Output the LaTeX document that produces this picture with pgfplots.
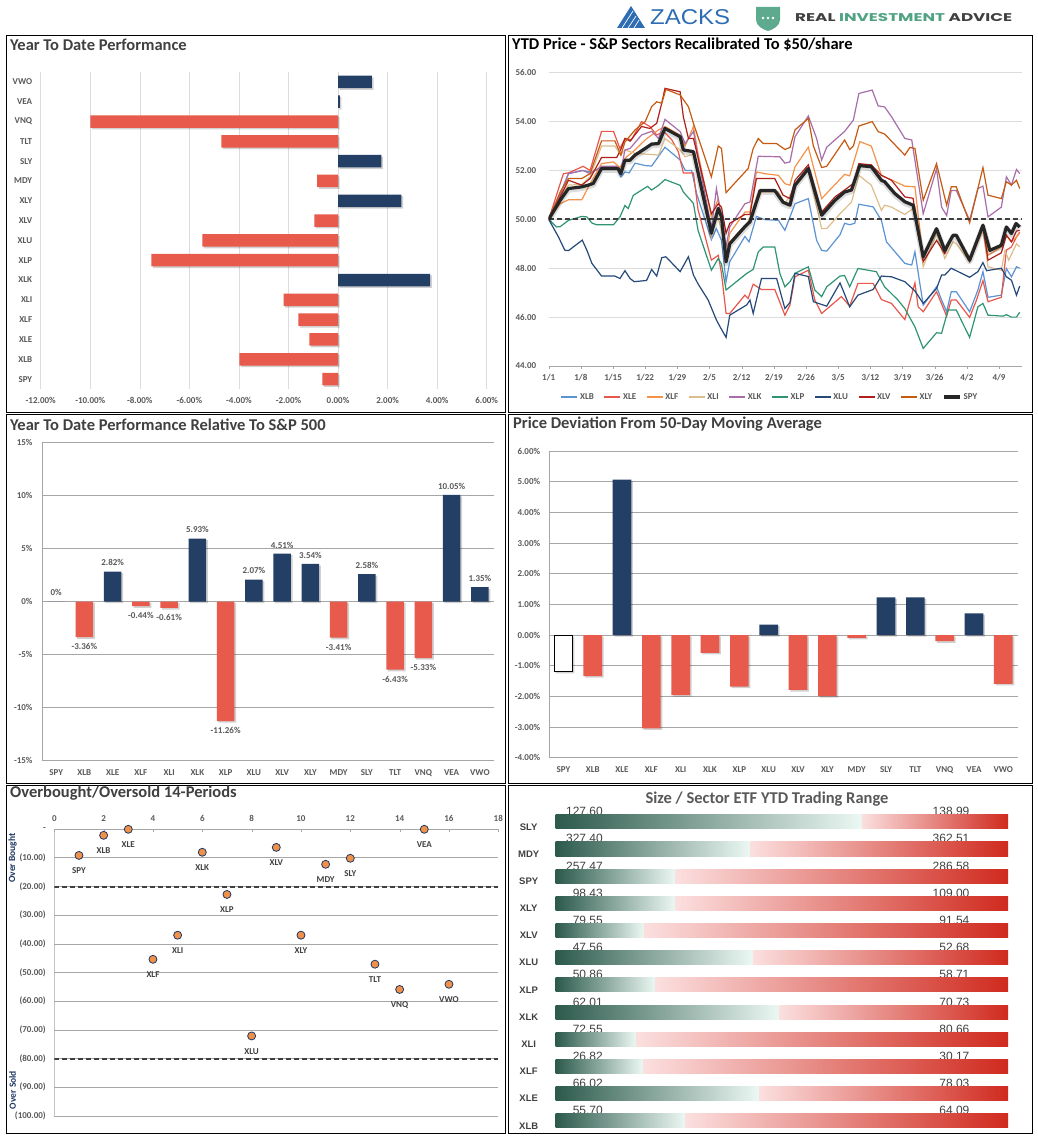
\documentclass[border=0pt]{standalone}
\usepackage{fontspec}
\setmainfont{Carlito}
\newfontfamily\arialf{Liberation Sans}
\newfontfamily\popf{Poppins}
\usepackage{graphicx}
\usepackage{pgfplots}
\pgfplotsset{compat=1.18}
\usepackage{pgfplotstable}

\definecolor{navy}{HTML}{243F66}
\definecolor{redbar}{HTML}{E85A4B}
\definecolor{ticktxt}{HTML}{595959}
\definecolor{titletxt}{HTML}{404040}
\definecolor{gridc}{HTML}{DCDCDC}
\definecolor{gridd}{HTML}{A6A6A6}
\definecolor{cXLB}{HTML}{5B93D3}
\definecolor{cXLE}{HTML}{E9564B}
\definecolor{cXLF}{HTML}{F5924A}
\definecolor{cXLI}{HTML}{DDBE8A}
\definecolor{cXLK}{HTML}{A86DAA}
\definecolor{cXLP}{HTML}{2E9474}
\definecolor{cXLU}{HTML}{24497A}
\definecolor{cXLV}{HTML}{B0201A}
\definecolor{cXLY}{HTML}{C55A11}
\definecolor{cSPY}{HTML}{262626}
\definecolor{dotorange}{HTML}{F0914A}
\definecolor{dotedge}{HTML}{1F3864}
\definecolor{gdark}{HTML}{2C5A4C}
\definecolor{gmid}{HTML}{7ECDB8}
\definecolor{glight}{HTML}{ECF8F3}
\definecolor{rlight}{HTML}{FBDFDF}
\definecolor{rmid}{HTML}{EA6656}
\definecolor{rdark}{HTML}{D02A1E}
\definecolor{zblue}{HTML}{2E6DB4}
\definecolor{shieldg}{HTML}{5DAA8E}
\definecolor{rgreen}{HTML}{4FA383}

\pgfplotsset{every axis/.append style={
  scale only axis, enlargelimits=false,
  tick label style={font=\fontsize{9}{10}\selectfont\bfseries, color=ticktxt},
  major tick length=0pt,
  grid style={gridc, line width=0.6pt},
  /pgf/number format/assume math mode=true,
}}
\pgfplotsset{shadowbar/.style={draw=none, fill=black, opacity=0.18, xshift=1.6pt, yshift=-1.6pt, forget plot}}

\newcommand{\rangebar}[6]{%
  \node[anchor=base east, inner sep=0pt, yshift=-1pt, font=\arialf\fontsize{12}{12}\selectfont, text=titletxt] at (axis cs:0.1046,#2) {#5};
  \node[anchor=base east, inner sep=0pt, yshift=-1pt, font=\arialf\fontsize{12}{12}\selectfont, text=titletxt] at (axis cs:0.915,#2) {#6};
  \addplot[draw=none, left color=gdark, middle color=gmid, right color=glight] coordinates {(0,#1) (#3,#1) (#3,#2) (0,#2)};
  \addplot[draw=none, left color=rlight, middle color=rmid, right color=rdark] coordinates {(#3,#1) (1,#1) (1,#2) (#3,#2)};
}

\begin{document}

\pgfplotstableread{
d v
0 50
2.5 51.05
4.3 51.87
7.2 52.0
9 51.94
11.5 52.08
14.8 52.08
15.7 51.74
16.6 51.94
17.5 51.9
18.8 52.3
21 52.2
22.4 52.18
23.9 52.58
25.3 52.95
28.6 52.43
29.7 52.0
31.1 52.0
32.2 51.05
35.4 49.17
36.5 49.62
37.6 49.14
38.6 47.45
39.4 48.27
42.7 49.3
43.6 49.08
45.2 50.12
47 49.99
50 49.96
51.4 49.55
53.6 50.64
56.5 50.85
58.3 49.14
59.4 48.73
60.5 48.7
63.4 49.37
64.4 49.84
65.5 49.78
66.6 49.84
67.5 50.62
70.6 50.51
72.4 49.96
73.5 49.08
76 48.53
77.5 48.2
79 48.13
79.7 48.67
81.5 46.49
84.4 47.24
85.5 46.7
86.6 46.22
87.6 47.04
88.7 47.04
91.6 46.22
93.4 47.11
94.5 47.86
95.6 46.81
98.5 46.9
99.6 47.99
100.7 47.65
101.8 48.06
102.5 48.0
}\tXLB

\pgfplotstableread{
d v
0 50
3.2 51.87
4.3 51.9
7.5 52.17
9 52.0
11.5 53.6
14.1 53.6
15.5 52.9
16.6 53.31
18 53.25
20.2 54.0
22 53.8
23.5 53.45
25 53.6
26.8 53.25
28.2 52.77
29.3 51.9
31.5 51.9
32.5 50.4
35.4 48.33
36.9 48.53
37.6 47.79
38.6 46.15
39.4 46.15
42.7 46.9
43.4 46.76
44.5 47.35
46.3 47.13
49.2 47.13
51.4 46.08
52.5 46.49
53.6 47.65
56.5 47.92
57.9 46.7
59.4 46.15
63.7 46.84
65.5 46.45
67.3 47.38
70.6 47.38
72.4 46.72
74.6 46.56
77.5 45.9
79.7 47.4
80.4 46.42
81.5 46.22
84.4 47.04
86.6 46.04
87.6 46.7
88.7 46.7
91.6 45.99
93.1 46.7
94.5 47.49
95.6 46.63
98.5 46.81
99.6 48.74
100.7 48.87
101.8 49.28
102.5 49.48
}\tXLE

\pgfplotstableread{
d v
0 50
2.5 50.64
4.3 50.8
7.2 50.8
9 51.46
11.5 52.28
14.1 52.35
15.5 52.12
16.6 52.5
18.8 52.84
21 53.25
22.4 53.45
23.9 53.66
25.3 53.8
28.6 53.45
29.7 53.0
31.5 53.8
32.5 52.7
35.4 50.1
36.9 50.85
37.6 50.1
38.6 48.47
39.4 49.43
42.7 50.3
43.8 50.3
45.2 51.94
47 51.87
50 51.8
51.4 51.46
52.5 51.4
53.6 52.15
56.5 52.95
59.4 50.85
64.4 51.84
65.5 51.78
67.7 53.18
70.2 53.0
72.4 51.8
77.5 51.36
79.7 51.33
81.5 48.4
84.4 49.55
86.2 48.74
88 49.35
88.7 49.35
91.6 48.35
94.5 49.76
95.6 48.53
98.5 48.87
99.6 49.35
100.7 49.08
101.8 49.28
102.5 49.44
}\tXLF

\pgfplotstableread{
d v
0 50
2.5 50.92
4.3 51.4
7.2 51.43
9 51.74
11.5 53.0
14.4 53.0
15.7 52.63
16.6 52.84
18.8 52.7
21 52.67
23.9 52.63
25.3 53.31
28.6 52.84
29.7 52.56
31.5 52.67
35.4 49.28
36.5 50.23
37.6 49.6
38.6 48.4
39.4 49.08
43.4 49.9
46.3 51.12
50 51.12
51.4 50.64
53.6 51.33
56.5 52.0
59.4 49.62
60.5 49.62
63.4 50.23
65.9 50.71
67.5 51.8
70.2 51.4
72.4 50.37
73.1 50.58
74.6 50.5
77.5 50.2
79.7 50.5
81.5 48.06
84.4 49.43
86.2 48.4
88 49.08
88.7 49.0
91.6 48.27
94.5 49.55
95.6 48.06
98.5 47.92
99.3 48.73
100.1 48.33
101.8 49.0
102.5 48.87
}\tXLI

\pgfplotstableread{
d v
0 50
2.5 51.0
4.3 51.87
7.5 52.0
9 51.87
11.5 52.17
14.8 52.17
15.7 52.0
16.6 52.84
17.7 52.9
20.2 53.45
22.4 53.6
23.9 53.31
25.3 54.09
28.6 53.59
29.7 53.1
31.5 53.6
32.5 52.56
35.4 49.62
36.5 51.26
37.6 50.03
38.6 48.87
39.4 49.69
42.7 50.64
43.8 50.71
45.6 52.58
50.3 52.56
51.4 52.3
52.5 52.35
53.6 53.38
56.5 54.23
58.3 53.31
59.4 52.43
60.5 52.95
64.4 53.6
66.3 54.06
67.5 55.15
70.4 55.29
71.7 54.64
73.1 54.6
74.6 54.2
77.5 53.31
79 53.25
81.5 50.23
84.4 52.07
85.5 50.5
86.6 50.16
87.6 51.18
88.7 51.18
91.6 49.96
93.4 51.26
94.5 51.36
95.6 50.1
98.5 50.5
99.6 51.74
100.7 51.4
101.8 52.04
102.5 51.87
}\tXLK

\pgfplotstableread{
d v
0 50
1.7 49.69
2.5 49.7
4.3 49.96
7.2 50.12
8.3 50.1
9.4 49.85
10.4 49.78
14.1 49.78
15.5 50.1
16.6 50.57
17.3 50.44
18.4 50.98
21.5 51.35
22.4 51.2
23.9 51.39
25.3 51.63
28.6 51.39
29.3 51.12
31.5 50.65
32.5 49.55
35.4 47.92
36.9 48.4
37.6 48.17
38.6 47.11
43.1 47.79
44.5 47.95
45.6 48.67
46.7 48.87
49.2 48.87
50.3 47.79
51.4 47.24
52.5 47.45
53.6 47.79
56.5 48.06
57.9 47.11
59.4 46.84
60.5 47.24
63.4 47.68
64.4 47.7
65.5 47.24
67.3 47.99
71.3 47.86
73.1 47.24
76 46.7
77.5 46.35
79.7 45.6
81.5 44.72
84.4 45.36
85.5 45.34
86.9 46.29
88.7 46.29
91.6 45.17
93.4 46.42
94.5 46.56
95.6 46.08
98.9 46.04
99.6 46.1
100.7 46.0
101.8 46.0
102.5 46.2
}\tXLP

\pgfplotstableread{
d v
0 50
2.1 49.29
3.5 48.74
4.3 48.72
7.3 49.15
8.3 48.74
9.4 48.2
11.5 47.68
14.4 47.68
15.5 47.58
16.6 47.9
17.7 47.58
18.6 47.45
21.3 47.5
22.4 47.95
23.5 47.68
24.6 48.43
25.5 48.47
28.6 47.86
30.4 48.47
31.5 47.72
32.5 47.36
34.7 46.7
36.5 45.88
37.3 45.6
38.6 45.17
39.4 46.08
43.1 46.5
43.8 46.7
44.5 46.15
46.3 47.58
49.6 47.58
51.4 46.35
52.5 46.6
53.6 47.79
56.5 47.66
57.6 46.63
60.5 46.45
63.4 47.4
65.5 46.42
67.3 46.9
70.6 47.13
72.4 47.68
74.6 47.65
77.5 47.45
79.7 47.07
81.5 46.56
84.4 47.17
85.5 47.72
86.2 47.72
87.6 48.0
91.6 47.63
93.4 47.86
94.5 48.23
95.3 47.9
98.5 48.0
99.6 47.65
100.7 47.51
101.8 46.9
102.5 47.27
}\tXLU

\pgfplotstableread{
d v
0 50
2.5 50.92
4.3 51.6
7.2 51.4
9 51.67
11.5 52.53
14.8 52.53
15.7 52.86
16.6 53.31
17.7 53.2
20.2 53.8
22 53.72
23.5 53.93
24.6 54.75
25.3 55.36
28.6 55.22
29.3 54.2
30.4 53.31
31.5 53.31
35.4 50.23
36.9 50.64
37.6 50.5
38.6 49.43
39.4 49.84
42.7 50.2
43.8 50.2
45.2 51.67
49.2 51.67
51 50.99
52.5 50.85
53.6 51.6
56.5 52.23
59.4 50.3
62.3 50.92
64.4 51.2
66.3 51.47
67.5 52.28
70.2 52.23
72.4 51.8
74.6 51.6
77.5 50.92
79.3 50.86
81.5 48.27
84.4 49.14
86.2 48.6
88 49.35
88.7 49.35
91.6 48.27
94.5 49.69
95.6 48.33
98.5 48.63
99.6 49.35
100.7 49.08
101.8 49.52
102.5 49.55
}\tXLV

\pgfplotstableread{
d v
0 50
2.5 51.12
4.3 51.67
7.2 51.67
9 51.87
11.5 53.21
14.4 53.21
15.7 52.63
16.6 53.17
18.8 53.66
21 54.0
22.4 54.61
23.5 54.81
24.6 54.75
25.5 55.32
28.6 55.09
30.4 54.61
31.5 53.93
35.4 51.74
36.9 53.0
37.6 52.9
38.6 51.09
39.4 51.26
43.4 52.08
44.5 52.9
45.6 53.31
46.7 53.1
49.6 53.1
51.4 52.86
52.5 52.94
53.6 53.66
56.5 54.13
57.6 53.0
59.4 52.12
60.5 52.17
64.4 53.25
65.5 52.86
66.3 53.0
67.5 53.82
70.4 54.0
71.7 53.59
73.1 53.49
77.5 52.63
78.6 52.94
79.7 52.9
81.5 50.78
84.4 52.28
86.6 50.58
87.6 51.33
88.7 51.33
91.6 49.86
94.5 52.12
95.6 50.99
98.5 50.85
99.6 51.54
100.7 51.4
101.8 51.6
102.5 51.26
}\tXLY

\pgfplotstableread{
d v
0 50
2.5 50.78
4.3 51.26
7.2 51.33
8.6 51.4
9.7 51.47
11.5 52.08
15.1 52.08
15.7 51.87
16.6 52.42
17.7 52.42
18.8 52.63
21 52.9
22.4 53.08
23.9 53.1
25.3 53.72
28.6 53.38
29.3 52.84
31.5 52.77
35.4 49.43
36.9 50.45
37.6 50.1
38.6 48.26
39.4 49.0
42.7 49.7
43.8 49.9
46 51.18
49.2 51.18
51 50.7
52.5 50.58
53.6 51.4
56.5 52.08
59.4 50.17
62.3 50.78
64.4 51.12
65.9 51.2
67.7 52.2
70.2 52.15
72.4 51.6
73.1 51.54
75.3 51.06
77.5 50.72
79.3 50.58
81.5 48.47
84.4 49.62
86.2 48.73
88 49.35
88.7 49.35
91.6 48.33
94.5 49.76
96 48.73
98.5 48.94
99.6 49.69
100.7 49.42
101.7 49.83
102.5 49.69
}\tSPY

\begin{tikzpicture}
\useasboundingbox (0,0) rectangle (1037pt,-1140pt);
\fill[white] (0,0) rectangle (1037pt,-1140pt);

\begin{scope}[x=1pt,y=-1pt]
  % header
  \fill[zblue] (617,28) -- (631,6) -- (645,28) -- cycle;
  \draw[white, line width=0.7pt] (622,28) -- (633,11) (628,28) -- (636,16) (634,28) -- (639,20);
  \node[anchor=west, inner sep=0pt, text=zblue] at (650,17) {\resizebox{80pt}{15pt}{\arialf ZACKS}};
  \fill[shieldg] (756,7) -- (780,7) -- (780,20) .. controls (780,26) and (772,30) .. (768,31) .. controls (764,30) and (756,26) .. (756,20) -- cycle;
  \fill[white] (763,18) circle (1.4) (768,18) circle (1.4) (773,18) circle (1.4);
  \node[anchor=west, inner sep=0pt, text=titletxt] at (795,17.5) {\resizebox{217pt}{8pt}{\popf\bfseries REAL {\color{rgreen}INVESTMENT} ADVICE}};
  % panel borders
  \draw[black, line width=0.9pt] (6,35) rectangle (505,412.5);
  \draw[black, line width=0.9pt] (508,35) rectangle (1032,412.5);
  \draw[black, line width=0.9pt] (6,414) rectangle (505,783);
  \draw[black, line width=0.9pt] (508,414) rectangle (1032,783);
  \draw[black, line width=0.9pt] (6,785) rectangle (505,1133);
  \draw[black, line width=0.9pt] (508,785) rectangle (1032,1133);
  % titles
  \begin{scope}[every node/.style={anchor=west, inner sep=0pt, font=\fontsize{16.5}{18}\selectfont\bfseries}]
    \node[text=titletxt] at (10,45) {Year To Date Performance};
    \node[text=black] at (512,45) {YTD Price - S\&P Sectors Recalibrated To \$50/share};
    \node[text=titletxt] at (10,425) {Year To Date Performance Relative To S\&P 500};
    \node[text=titletxt] at (513,424) {Price Deviation From 50-Day Moving Average};
    \node[text=titletxt] at (10,793) {Overbought/Oversold 14-Periods};
  \end{scope}
  \node[anchor=center, inner sep=0pt, font=\fontsize{16.5}{18}\selectfont\bfseries, text=ticktxt] at (767,799) {Size / Sector ETF YTD Trading Range};
  \node[rotate=90, inner sep=0pt, font=\fontsize{9.5}{10}\selectfont\bfseries, text=dotedge] at (12.7,858) {Over Bought};
  \node[rotate=90, inner sep=0pt, font=\fontsize{9.5}{10}\selectfont\bfseries, text=dotedge] at (12.7,1090) {Over Sold};
\end{scope}

% ---------------- Panel 1: YTD performance ----------------
\begin{axis}[at={(40.7pt,-72pt)}, anchor=north west, width=446pt, height=317pt,
  xmin=-12, xmax=6, ymin=-0.5, ymax=15.5,
  xtick={-12,-10,...,6},
  xticklabels={-12.00\%,-10.00\%,-8.00\%,-6.00\%,-4.00\%,-2.00\%,0.00\%,2.00\%,4.00\%,6.00\%},
  ytick={0,...,15},
  yticklabels={SPY,XLB,XLE,XLF,XLI,XLK,XLP,XLU,XLV,XLY,MDY,SLY,TLT,VNQ,VEA,VWO},
  xmajorgrids, axis line style={draw=none},
  xticklabel style={yshift=-5pt}, yticklabel style={xshift=-5pt}]
\addplot[xbar, bar width=12.5pt, bar shift=0pt, shadowbar]
  coordinates {(1.37,15) (0.07,14) (1.75,11) (2.56,9) (3.72,5) (-10.0,13) (-4.71,12) (-0.84,10) (-0.96,8) (-5.48,7) (-7.53,6) (-2.2,4) (-1.6,3) (-1.16,2) (-3.98,1) (-0.63,0)};
\addplot[xbar, bar width=12.5pt, bar shift=0pt, fill=navy, draw=none]
  coordinates {(1.37,15) (0.07,14) (1.75,11) (2.56,9) (3.72,5)};
\addplot[xbar, bar width=12.5pt, bar shift=0pt, fill=redbar, draw=none]
  coordinates {(-10.0,13) (-4.71,12) (-0.84,10) (-0.96,8) (-5.48,7) (-7.53,6) (-2.2,4) (-1.6,3) (-1.16,2) (-3.98,1) (-0.63,0)};
\end{axis}

% ---------------- Panel 2: YTD price lines ----------------
\begin{axis}[at={(548.7pt,-72.7pt)}, anchor=north west, width=473.3pt, height=293.3pt,
  xmin=0, xmax=103, ymin=44, ymax=56,
  ytick={44,46,...,56}, yticklabels={44.00,46.00,48.00,50.00,52.00,54.00,56.00},
  xtick={0,7,...,98},
  xticklabels={1/1,1/8,1/15,1/22,1/29,2/5,2/12,2/19,2/26,3/5,3/12,3/19,3/26,4/2,4/9},
  ymajorgrids, axis line style={draw=none},
  major tick length=3pt, tick align=outside, xtick pos=left, ytick pos=left,
  xtick style={draw=gridd}, ytick style={draw=none},
  xticklabel style={yshift=-2pt}, yticklabel style={xshift=-6pt},
  legend style={at={(0.4676,-0.106)}, anchor=center, draw=none, fill=none,
    font=\fontsize{9}{10}\selectfont\bfseries, text=ticktxt,
    legend columns=10, /tikz/every even column/.append style={column sep=8pt}},
  legend image code/.code={\draw[#1] (0pt,0pt) -- (16pt,0pt);}]
\draw[gridd, line width=0.6pt] (axis cs:0,44) -- (axis cs:103,44);
\addplot[cXLB, line width=1.2pt] table[x=d,y=v] {\tXLB}; \addlegendentry{XLB}
\addplot[cXLE, line width=1.2pt] table[x=d,y=v] {\tXLE}; \addlegendentry{XLE}
\addplot[cXLF, line width=1.2pt] table[x=d,y=v] {\tXLF}; \addlegendentry{XLF}
\addplot[cXLI, line width=1.2pt] table[x=d,y=v] {\tXLI}; \addlegendentry{XLI}
\addplot[cXLK, line width=1.2pt] table[x=d,y=v] {\tXLK}; \addlegendentry{XLK}
\addplot[cXLP, line width=1.2pt] table[x=d,y=v] {\tXLP}; \addlegendentry{XLP}
\addplot[cXLU, line width=1.2pt] table[x=d,y=v] {\tXLU}; \addlegendentry{XLU}
\addplot[cXLV, line width=1.2pt] table[x=d,y=v] {\tXLV}; \addlegendentry{XLV}
\addplot[cXLY, line width=1.2pt] table[x=d,y=v] {\tXLY}; \addlegendentry{XLY}
\addplot[forget plot, color=titletxt, line width=1.8pt, dash pattern=on 5pt off 3pt] coordinates {(0,50) (103,50)};
\addplot[forget plot, black, opacity=0.14, line width=5.5pt, yshift=-1.5pt, line join=round] table[x=d,y=v] {\tSPY};
\addplot[cSPY, line width=3.2pt, line join=round] table[x=d,y=v] {\tSPY}; \addlegendentry{SPY}
\end{axis}

% ---------------- Panel 3: relative to S&P ----------------
\begin{axis}[at={(42pt,-442.3pt)}, anchor=north west, width=452pt, height=318.4pt,
  xmin=-0.5, xmax=15.5, ymin=-15, ymax=15,
  ytick={-15,-10,...,15}, yticklabels={-15\%,-10\%,-5\%,0\%,5\%,10\%,15\%},
  xtick={0,...,15},
  xticklabels={SPY,XLB,XLE,XLF,XLI,XLK,XLP,XLU,XLV,XLY,MDY,SLY,TLT,VNQ,VEA,VWO},
  ymajorgrids, grid style={gridd}, axis line style={draw=none},
  xticklabel style={yshift=-5pt}, yticklabel style={xshift=-6pt}]
\draw[gridd] (axis cs:-0.5,-15) -- (axis cs:-0.5,15);
\addplot[ybar, bar width=17.7pt, bar shift=0pt, shadowbar]
  coordinates {(2,2.82) (5,5.93) (7,2.07) (8,4.51) (9,3.54) (11,2.58) (14,10.05) (15,1.35) (1,-3.36) (3,-0.44) (4,-0.61) (6,-11.26) (10,-3.41) (12,-6.43) (13,-5.33)};
\addplot[ybar, bar width=17.7pt, bar shift=0pt, fill=navy, draw=none,
  nodes near coords, point meta=explicit symbolic,
  every node near coord/.append style={anchor=south, yshift=2pt, font=\fontsize{9}{10}\selectfont\bfseries, text=ticktxt}]
  coordinates {(0,0) [0\%] (2,2.82) [2.82\%] (5,5.93) [5.93\%] (7,2.07) [2.07\%] (8,4.51) [4.51\%] (9,3.54) [3.54\%] (11,2.58) [2.58\%] (14,10.05) [10.05\%] (15,1.35) [1.35\%]};
\addplot[ybar, bar width=17.7pt, bar shift=0pt, fill=redbar, draw=none,
  nodes near coords, point meta=explicit symbolic,
  every node near coord/.append style={anchor=north, yshift=-3pt, font=\fontsize{9}{10}\selectfont\bfseries, text=ticktxt}]
  coordinates {(1,-3.36) [-3.36\%] (3,-0.44) [-0.44\%] (4,-0.61) [-0.61\%] (6,-11.26) [-11.26\%] (10,-3.41) [-3.41\%] (12,-6.43) [-6.43\%] (13,-5.33) [-5.33\%]};
\end{axis}

% ---------------- Panel 4: deviation from 50-DMA ----------------
\begin{axis}[at={(548.7pt,-451pt)}, anchor=north west, width=469.3pt, height=306.7pt,
  xmin=-0.5, xmax=15.5, ymin=-4, ymax=6,
  ytick={-4,...,6},
  yticklabels={-4.00\%,-3.00\%,-2.00\%,-1.00\%,0.00\%,1.00\%,2.00\%,3.00\%,4.00\%,5.00\%,6.00\%},
  xtick={0,...,15},
  xticklabels={SPY,XLB,XLE,XLF,XLI,XLK,XLP,XLU,XLV,XLY,MDY,SLY,TLT,VNQ,VEA,VWO},
  ymajorgrids, grid style={gridd}, axis line style={draw=none},
  xticklabel style={yshift=-5pt}, yticklabel style={xshift=-5pt}]
\draw[gridd] (axis cs:-0.5,-4) -- (axis cs:-0.5,6);
\addplot[ybar, bar width=18.7pt, bar shift=0pt, shadowbar]
  coordinates {(0,-1.2) (2,5.07) (7,0.34) (11,1.23) (12,1.23) (14,0.71) (1,-1.34) (3,-3.04) (4,-1.96) (5,-0.58) (6,-1.68) (8,-1.79) (9,-1.99) (10,-0.09) (13,-0.2) (15,-1.59)};
\addplot[ybar, bar width=18.7pt, bar shift=0pt, fill=white, draw=black, line width=0.8pt]
  coordinates {(0,-1.2)};
\addplot[ybar, bar width=18.7pt, bar shift=0pt, fill=navy, draw=none]
  coordinates {(2,5.07) (7,0.34) (11,1.23) (12,1.23) (14,0.71)};
\addplot[ybar, bar width=18.7pt, bar shift=0pt, fill=redbar, draw=none]
  coordinates {(1,-1.34) (3,-3.04) (4,-1.96) (5,-0.58) (6,-1.68) (8,-1.79) (9,-1.99) (10,-0.09) (13,-0.2) (15,-1.59)};
\end{axis}

% ---------------- Panel 5: overbought / oversold ----------------
\begin{axis}[at={(54.3pt,-829pt)}, anchor=north west, width=444pt, height=287pt,
  xmin=0, xmax=18, ymin=-100, ymax=0,
  xtick={0,2,...,18}, xticklabels={0,2,4,6,8,10,12,14,16,18},
  xtick pos=right, xticklabel pos=right,
  ytick={-100,-90,...,0},
  yticklabels={(100.00),(90.00),(80.00),(70.00),(60.00),(50.00),(40.00),(30.00),(20.00),(10.00),-},
  ytick pos=left,
  ymajorgrids, grid style={gridd}, axis line style={draw=none},
  major tick length=3pt, tick align=inside, xtick style={draw=gridd}, ytick style={draw=none},
  xticklabel style={yshift=4pt}, yticklabel style={xshift=-5pt}]
\draw[gridd] (axis cs:0,-100) -- (axis cs:0,0);
\addplot[color=titletxt, line width=1.8pt, dash pattern=on 5pt off 3pt] coordinates {(0,-20.3) (18,-20.3)};
\addplot[color=titletxt, line width=1.8pt, dash pattern=on 5pt off 3pt] coordinates {(0,-80.1) (18,-80.1)};
\addplot[only marks, mark=*, mark size=4pt, mark options={fill=dotorange, draw=dotedge, line width=0.8pt},
  nodes near coords, point meta=explicit symbolic,
  every node near coord/.append style={anchor=north, inner sep=0pt, yshift=-12pt, font=\fontsize{9}{10}\selectfont\bfseries, text=titletxt}]
  coordinates {(1,-9.2) [SPY] (2,-2.2) [XLB] (3,-0.1) [XLE] (4,-45.4) [XLF] (5,-37) [XLI] (6,-8.1) [XLK] (7,-22.8) [XLP] (8,-72.1) [XLU] (9,-6.4) [XLV] (10,-37) [XLY] (11,-12.3) [MDY] (12,-10.2) [SLY] (13,-47.1) [TLT] (14,-55.9) [VNQ] (15,-0.1) [VEA] (16,-54.1) [VWO]};
\end{axis}

% ---------------- Panel 6: trading range ----------------
\begin{axis}[at={(555.7pt,-808.2pt)}, anchor=north west, width=452.3pt, height=326.2pt,
  xmin=0, xmax=1, ymin=-0.5, ymax=11.5, clip=false,
  axis line style={draw=none}, xtick=\empty,
  ytick={0,...,11},
  yticklabels={XLB,XLE,XLF,XLI,XLK,XLP,XLU,XLV,XLY,SPY,MDY,SLY},
  yticklabel style={anchor=center, xshift=-27pt, yshift=-5pt, font=\arialf\bfseries\fontsize{9.5}{10}\selectfont, color=titletxt}]
\rangebar{10.74}{11.26}{0.677}{11}{127.60}{138.99}
\rangebar{9.74}{10.26}{0.430}{10}{327.40}{362.51}
\rangebar{8.74}{9.26}{0.265}{9}{257.47}{286.58}
\rangebar{7.74}{8.26}{0.265}{8}{98.43}{109.00}
\rangebar{6.74}{7.26}{0.195}{7}{79.55}{91.54}
\rangebar{5.74}{6.26}{0.436}{6}{47.56}{52.68}
\rangebar{4.74}{5.26}{0.221}{5}{50.86}{58.71}
\rangebar{3.74}{4.26}{0.495}{4}{62.01}{70.73}
\rangebar{2.74}{3.26}{0.178}{3}{72.55}{80.66}
\rangebar{1.74}{2.26}{0.193}{2}{26.82}{30.17}
\rangebar{0.74}{1.26}{0.450}{1}{66.02}{78.03}
\rangebar{-0.26}{0.26}{0.287}{0}{55.70}{64.09}
\end{axis}

\end{tikzpicture}
\end{document}
